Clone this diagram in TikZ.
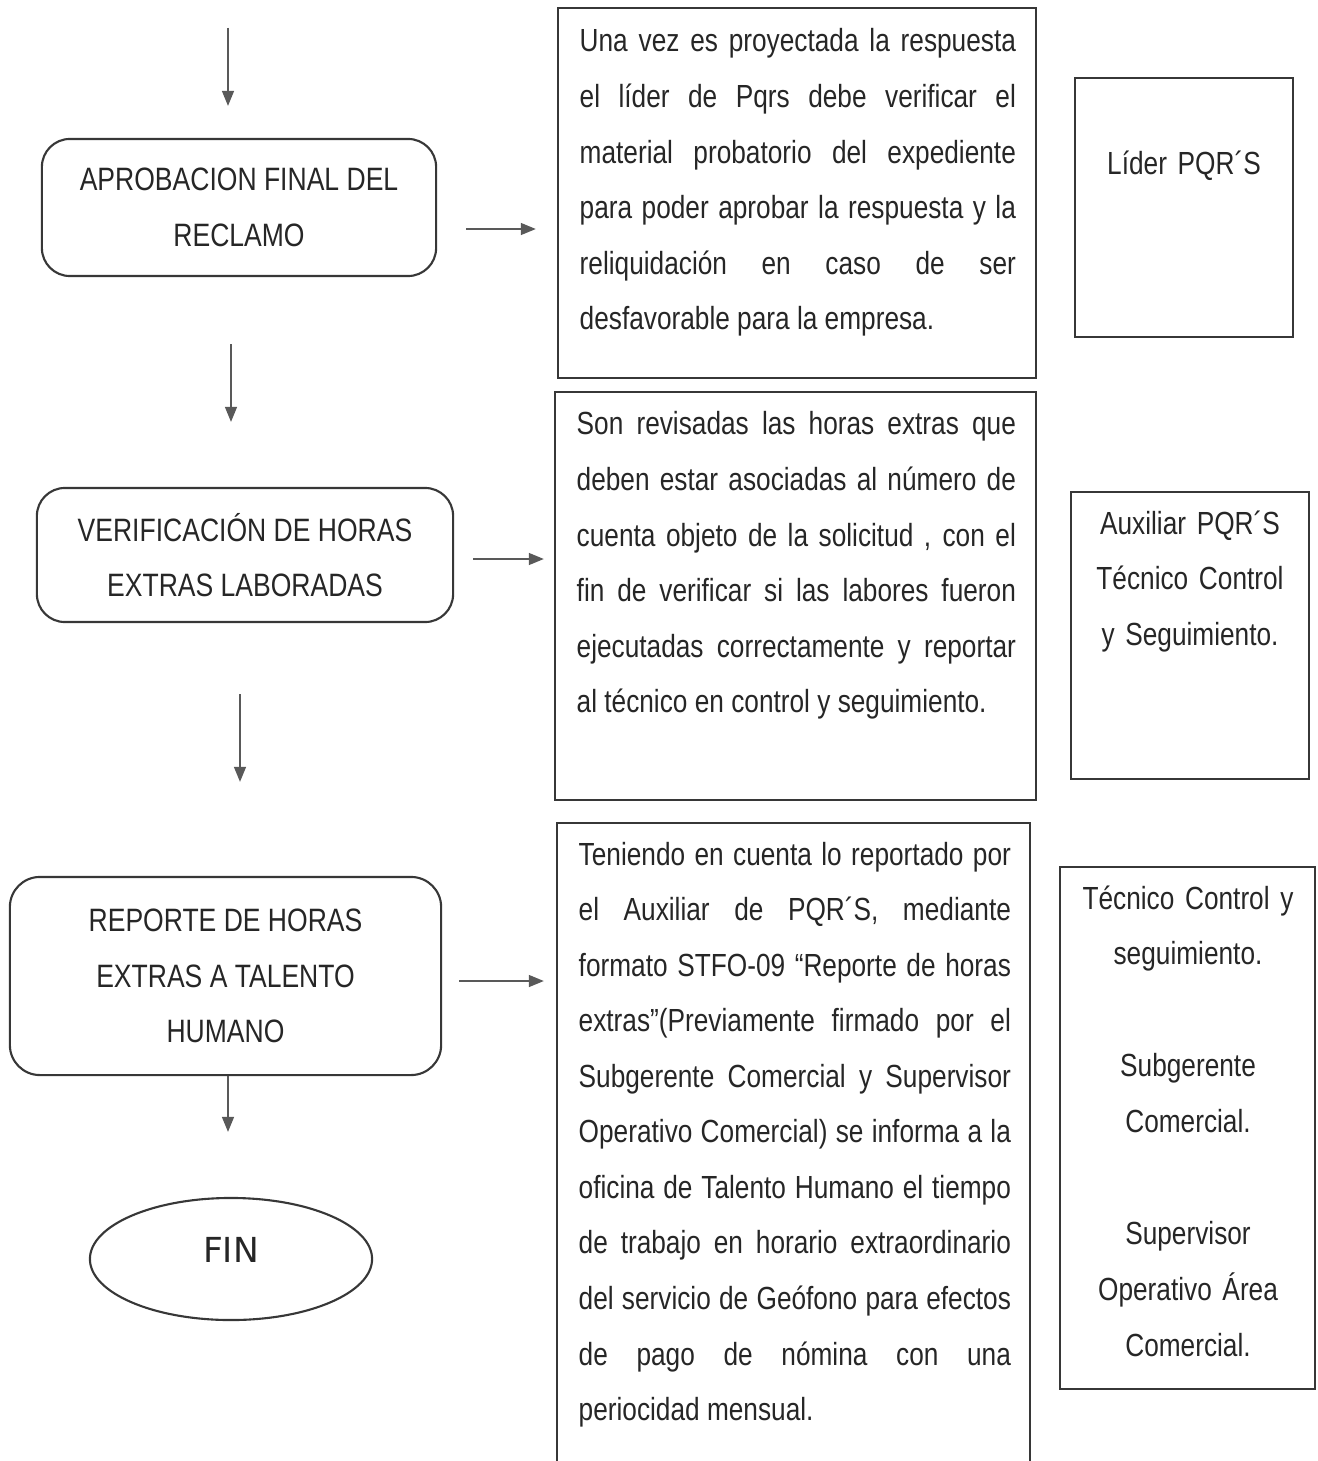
\documentclass[tikz,border=0pt]{standalone}
\usepackage{fontspec}
\setmainfont{Liberation Sans}[FakeStretch=0.82]
\newfontfamily\finfont{DejaVu Sans}
\usetikzlibrary{shapes.geometric, arrows.meta}
\definecolor{inkgray}{RGB}{55,55,55}
\hyphenpenalty=10000
\tolerance=9999
\tikzstyle{stage} = [rectangle, rounded corners=0.28cm, draw=inkgray,
                     line width=0.6pt, align=center, text=black!85,
                     font=\fontsize{9.2}{15.8}\selectfont]
\tikzstyle{detail} = [rectangle, draw=inkgray, line width=0.6pt]
\tikzstyle{detailtext} = [anchor=base west, inner sep=0pt, align=justify,
                          text=black!85, font=\fontsize{9.1}{15.8}\selectfont]
\tikzstyle{role} = [rectangle, draw=inkgray, line width=0.6pt]
\tikzstyle{roletext} = [anchor=base, inner sep=0pt, align=center,
                        text width=2.5cm, text=black!85,
                        font=\fontsize{9.1}{15.9}\selectfont]
\tikzstyle{finish} = [ellipse, draw=inkgray, line width=0.6pt,
                      minimum width=2.82cm, minimum height=1.22cm,
                      text depth=0.18cm, text=black!85,
                      font=\finfont\fontsize{9.8}{12}\selectfont]
\tikzstyle{arrow} = [line width=0.4pt, draw=black!65, fill=black!65,
                     -{Triangle[length=1.5mm,width=1.2mm]}]

\begin{document}
\begin{tikzpicture}[x=0.01cm, y=-0.01cm]
    \useasboundingbox (0,0) rectangle (1317,1461);

    % left column
    \coordinate (start) at (228,28);
    \node (aprob) [stage, minimum width=3.94cm, minimum height=1.37cm] at (239,207.5) {APROBACION FINAL DEL\\RECLAMO};
    \node (verif) [stage, minimum width=4.16cm, minimum height=1.34cm] at (245,555) {VERIFICACIÓN DE HORAS\\EXTRAS LABORADAS};
    \node (report) [stage, minimum width=4.31cm, minimum height=1.98cm, rounded corners=0.3cm] at (225.5,976) {REPORTE DE HORAS\\EXTRAS A TALENTO\\HUMANO};
    \node (fin) [finish] at (231,1259) {FIN};

    % descriptions
    \node (desc1) [detail, minimum width=4.78cm, minimum height=3.70cm] at (797,193) {};
    \node (desc1txt) [detailtext, text width=4.36cm] at (579,52) {Una vez es proyectada la respuesta\linebreak
        el líder de Pqrs debe verificar el\linebreak
        material probatorio del expediente\linebreak
        para poder aprobar la respuesta y la\linebreak
        reliquidación en caso de ser\linebreak
        desfavorable para la empresa.};

    \node (desc2) [detail, minimum width=4.81cm, minimum height=4.08cm] at (795.5,596) {};
    \node (desc2txt) [detailtext, text width=4.39cm] at (576,435) {Son revisadas las horas extras que\linebreak
        deben estar asociadas al número de\linebreak
        cuenta objeto de la solicitud , con el\linebreak
        fin de verificar si las labores fueron\linebreak
        ejecutadas correctamente y reportar\linebreak
        al técnico en control y seguimiento.};

    \node (desc3) [detail, minimum width=4.73cm, minimum height=6.97cm] at (793.5,1171.5) {};
    \node (desc3txt) [detailtext, text width=4.32cm] at (578,865) {Teniendo en cuenta lo reportado por\linebreak
        el Auxiliar de PQR´S, mediante\linebreak
        formato STFO-09 “Reporte de horas\linebreak
        extras”(Previamente firmado por el\linebreak
        Subgerente Comercial y Supervisor\linebreak
        Operativo Comercial) se informa a la\linebreak
        oficina de Talento Humano el tiempo\linebreak
        de trabajo en horario extraordinario\linebreak
        del servicio de Geófono para efectos\linebreak
        de pago de nómina con una\linebreak
        periocidad mensual.};

    % responsables
    \node (role1) [role, minimum width=2.18cm, minimum height=2.59cm] at (1184,207.5) {};
    \node (role1txt) [roletext] at (1184,175) {Líder PQR´S};

    \node (role2) [role, minimum width=2.38cm, minimum height=2.87cm] at (1190,635.5) {};
    \node (role2txt) [roletext] at (1190,534) {Auxiliar PQR´S\\Técnico Control\\y Seguimiento.};

    \node (role3) [role, minimum width=2.55cm, minimum height=5.22cm] at (1187.5,1128) {};
    \node (role3txt) [roletext, text width=2.6cm] at (1188,909) {Técnico Control y\\seguimiento.\\[15.9pt]Subgerente\\Comercial.\\[15.9pt]Supervisor\\Operativo Área\\Comercial.};

    % connectors
    \draw [arrow, shorten >=0.32cm] (start) -- (start |- aprob.north);
    \draw [arrow, shorten <=0.29cm, shorten >=0.21cm] ([yshift=-0.215cm]aprob.east) -- ([yshift=-0.215cm]aprob.east -| desc1.west);
    \draw [arrow, shorten <=0.67cm, shorten >=0.65cm] ([xshift=-0.08cm]aprob.south) -- ([xshift=-0.08cm]aprob.south |- verif.north);
    \draw [arrow, shorten <=0.19cm, shorten >=0.10cm] ([yshift=-0.04cm]verif.east) -- ([yshift=-0.04cm]verif.east -| desc2.west);
    \draw [arrow, shorten <=0.71cm, shorten >=0.94cm] ([xshift=-0.05cm]verif.south) -- ([xshift=-0.05cm]verif.south |- report.north);
    \draw [arrow, shorten <=0.17cm, shorten >=0.12cm] ([yshift=-0.05cm]report.east) -- ([yshift=-0.05cm]report.east -| desc3.west);
    \draw [arrow, shorten >=0.65cm] ([xshift=0.025cm]report.south) -- ([xshift=0.025cm]report.south |- fin.north);

\end{tikzpicture}
\end{document}
